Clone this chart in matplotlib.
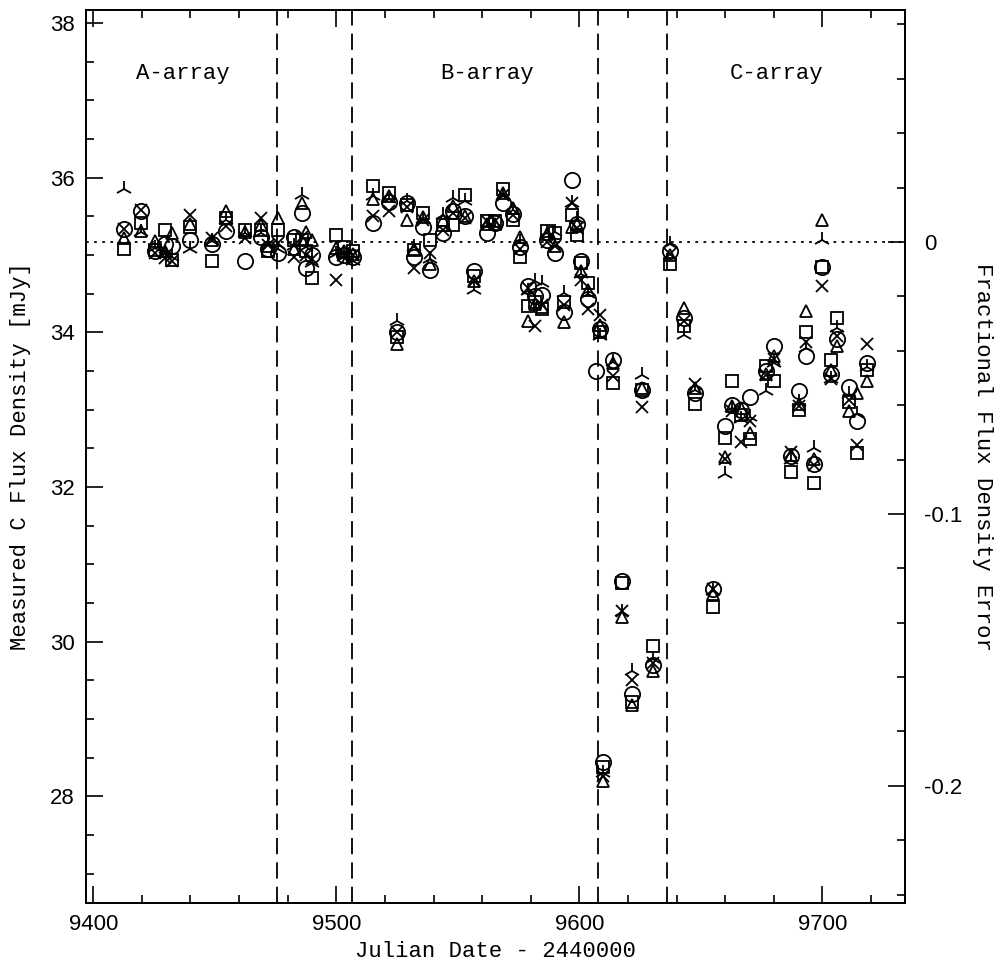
import numpy as np
import matplotlib
matplotlib.use("Agg")
import matplotlib.pyplot as plt
from matplotlib.ticker import MultipleLocator

# reference flux (0 on the right-hand scale), mJy
ref = 35.17

# epochs (JD - 2440000) and the flux measured with each method
jd = [9412.7, 9419.7, 9425.5, 9429.5, 9432.5, 9439.8, 9448.8, 9454.6, 9462.4,
      9469.0, 9471.8, 9476.0, 9482.5, 9485.8, 9487.5, 9490.0, 9499.7, 9503.0,
      9506.7,
      9515.3, 9521.5, 9525.0, 9529.0, 9531.8, 9535.8, 9538.7, 9544.0, 9548.0,
      9553.0, 9556.5, 9562.0, 9565.4, 9568.7, 9572.8, 9575.6, 9579.0, 9581.8,
      9584.7, 9586.7, 9590.0, 9593.7, 9597.0, 9599.0, 9600.5, 9603.5, 9608.5,
      9607.0, 9613.8, 9609.7, 9617.5, 9621.6, 9630.2, 9625.7,
      9637.2, 9643.0, 9647.5, 9655.2, 9659.8, 9663.0, 9666.7, 9670.4, 9677.0,
      9680.3, 9690.5, 9687.2, 9693.4, 9696.7, 9700.0, 9703.6, 9706.1, 9711.0,
      9714.3, 9718.4]

flux_circle = [35.34, 35.57, 35.05, 35.14, 35.12, 35.20, 35.14, 35.31, 34.92,
               35.24, 35.08, 35.03, 35.24, 35.55, 34.84, 35.00, 34.97, 35.00,
               34.98,
               35.42, 35.69, 34.00, 35.68, 34.98, 35.37, 34.81, 35.29, 35.57,
               35.50, 34.79, 35.29, 35.41, 35.68, 35.53, 35.10, 34.60, 34.47,
               34.49, 35.20, 35.03, 34.26, 35.97, 35.40, 34.92, 34.43, 34.04,
               33.50, 33.65, 28.45, 30.78, 29.32, 29.70, 33.25,
               35.05, 34.19, 33.22, 30.68, 32.79, 33.06, 33.00, 33.16, 33.50,
               33.82, 33.24, 32.40, 33.69, 32.30, 34.85, 33.46, 33.92, 33.29,
               32.86, 33.61]

flux_square = [35.08, 35.42, 35.07, 35.33, 34.94, 35.37, 34.92, 35.48, 35.33,
               35.33, 35.05, 35.33, 35.20, 35.20, 35.05, 34.71, 35.26, 35.11,
               35.05,
               35.90, 35.80, 33.94, 35.65, 35.07, 35.55, 35.20, 35.39, 35.39,
               35.78, 34.73, 35.44, 35.44, 35.85, 35.46, 34.98, 34.34, 34.40,
               34.30, 35.31, 35.29, 34.40, 35.52, 35.26, 34.90, 34.64, 34.00,
               np.nan, 33.35, 28.38, 30.76, 29.22, 29.95, 33.25,
               34.88, 34.08, 33.07, 30.45, 32.64, 33.37, 32.93, 32.62, 33.57,
               33.37, 33.00, 32.20, 34.00, 32.05, 34.85, 33.65, 34.19, 33.10,
               32.44, 33.52]

flux_triangle = [35.22, 35.31, 35.18, 35.05, 35.29, 35.40, 35.20, 35.57, 35.30,
                 35.39, 35.12, 35.48, 35.08, 35.67, 35.30, 35.20, 35.09, 35.05,
                 35.02,
                 35.72, 35.76, 33.85, 35.46, 35.08, 35.49, 34.88, 35.45, 35.64,
                 35.50, 34.66, 35.40, 35.40, 35.80, 35.61, 35.24, 34.15, 34.37,
                 34.33, 35.27, 35.12, 34.13, 35.37, 35.40, 34.80, 34.55, 34.10,
                 np.nan, 33.60, 28.20, 30.32, 29.18, 29.62, 33.28,
                 35.00, 34.32, 33.28, 30.62, 32.39, 33.05, 33.02, 32.70, 33.46,
                 33.69, 33.08, 32.42, 34.28, 32.36, 35.46, 33.52, 33.82, 32.98,
                 33.22, 33.37]

flux_cross = [35.34, 35.59, 35.03, 34.96, 34.93, 35.52, 35.22, 35.38, 35.22,
              35.48, 35.13, 35.16, 34.97, 35.24, 35.00, 34.95, 34.68, 35.03,
              35.00,
              35.50, 35.57, 34.00, 35.62, 34.84, 35.45, 35.03, 35.33, 35.55,
              35.48, 34.66, 35.44, 35.44, 35.78, 35.52, 35.08, 34.58, 34.08,
              34.36, 35.17, 35.12, 34.36, 35.68, 35.35, 34.68, 34.30, 34.23,
              np.nan, 33.44, 28.26, 30.40, 29.50, 29.72, 33.03,
              35.02, 34.15, 33.33, 30.68, 32.36, 32.99, 32.58, 32.85, 33.45,
              33.66, 33.05, 32.45, 33.87, 32.28, 34.60, 33.40, 33.95, 33.13,
              32.55, 33.85]

flux_tri = [35.85, 35.30, 35.09, 35.02, 34.98, 35.08, 35.18, 35.45, 35.28,
            35.28, 35.14, 35.08, 35.12, 35.78, 35.10, 34.90, 35.02, 34.97,
            34.92,
            35.76, 35.72, 34.15, 35.70, 35.10, 35.47, 34.95, 35.52, 35.74,
            35.70, 34.55, 35.38, 35.38, 35.76, 35.58, 35.17, 34.53, 34.66,
            34.64, 35.29, 35.30, 34.51, 35.68, 35.47, 34.75, 34.50, 33.95,
            np.nan, 33.62, 28.30, 30.38, 29.62, 29.78, 33.45,
            35.14, 33.97, 33.25, 30.65, 32.17, 33.02, 32.88, 32.90, 33.24,
            33.60, 33.10, 32.35, 33.80, 32.50, 35.20, 33.40, 34.06, 33.20,
            32.94, 33.55]

# array configuration changes
config_dates = [9475.5, 9506.5, 9607.6, 9636.2]
config_names = ["A-array", "B-array", "C-array"]
config_label_x = [9437, 9562, 9681]

mono = "Liberation Mono"
plt.rcParams["font.family"] = "Liberation Sans"

fig = plt.figure(figsize=(10.03, 9.65), dpi=100)
ax = fig.add_axes([0.0857, 0.0642, 0.8166, 0.9254])

kw = dict(linestyle="none", color="black", markeredgewidth=1.3)
ax.plot(jd, flux_circle, marker="o", markersize=11, markerfacecolor="none", **kw)
ax.plot(jd, flux_square, marker="s", markersize=8, markerfacecolor="none", **kw)
ax.plot(jd, flux_triangle, marker="^", markersize=9, markerfacecolor="none", **kw)
ax.plot(jd, flux_cross, marker="x", markersize=8, **kw)
ax.plot(jd, flux_tri, marker="2", markersize=12, **kw)

for d in config_dates:
    ax.axvline(d, color="black", lw=1.3, linestyle=(0, (9, 4.5)))
ax.axhline(ref, color="black", lw=1.3, linestyle=(0, (1.5, 3)))

for name, xl in zip(config_names, config_label_x):
    ax.text(xl, 37.35, name, family=mono, fontsize=16, ha="center", va="center")

ax.set_xlim(9397, 9734)
ax.set_ylim(26.62, 38.17)
ax.xaxis.set_major_locator(MultipleLocator(100))
ax.xaxis.set_minor_locator(MultipleLocator(20))
ax.yaxis.set_major_locator(MultipleLocator(2))
ax.yaxis.set_minor_locator(MultipleLocator(0.5))
ax.tick_params(which="both", direction="in", top=True, right=False,
               labelsize=16, width=1.2)
ax.tick_params(which="major", length=12, pad=8)
ax.tick_params(which="minor", length=6)

ax.set_xlabel("Julian Date - 2440000", family=mono, fontsize=16, labelpad=4)
ax.set_ylabel("Measured C Flux Density [mJy]", family=mono, fontsize=16,
              labelpad=14)

ax2 = ax.twinx()
ax2.set_ylim(26.62 / ref - 1, 38.17 / ref - 1)
ax2.set_yticks([0, -0.1, -0.2])
ax2.set_yticklabels(["0", "-0.1", "-0.2"])
ax2.yaxis.set_minor_locator(MultipleLocator(0.02))
ax2.tick_params(which="both", direction="in", labelsize=16, width=1.2)
ax2.tick_params(which="major", length=12, pad=14)
ax2.tick_params(which="minor", length=6)
ax2.set_ylabel("Fractional Flux Density Error", family=mono, fontsize=16,
               rotation=270, labelpad=22)

for a in (ax, ax2):
    for s in a.spines.values():
        s.set_linewidth(1.3)

fig.savefig("out.png", dpi=100)
